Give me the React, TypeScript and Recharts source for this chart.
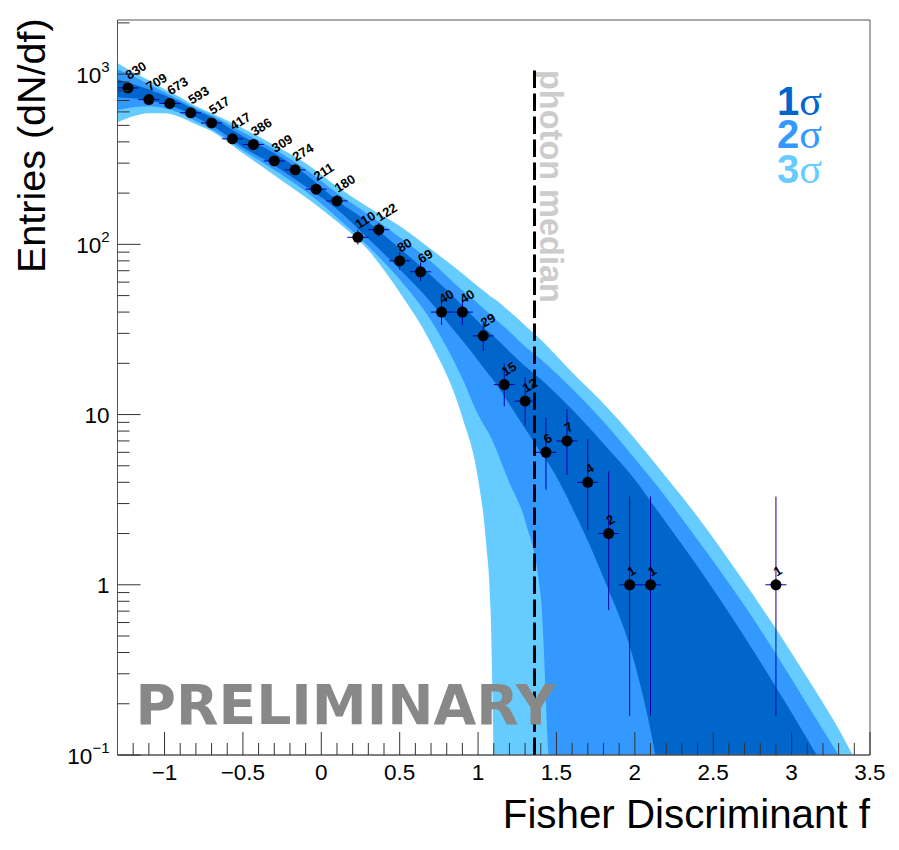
import React from 'react'
import { ComposedChart, Area, Scatter, ErrorBar, XAxis, YAxis, ReferenceLine, ReferenceArea, ReferenceDot } from 'recharts'

const bandF = [-1.3, -1.2, -1.1, -1.0, -0.9, -0.8, -0.7, -0.5, -0.3, -0.1, 0.1, 0.3, 0.5, 0.7, 0.9, 1.0, 1.05, 1.08, 1.1, 1.2, 1.3, 1.4, 1.45, 1.6, 1.8, 2.0, 2.13, 2.4, 2.7, 3.0, 3.16, 3.3, 3.39, 3.5]
const upper3 = [1161, 1027, 922, 816, 732, 648, 590, 481, 382, 300, 219, 165, 128, 93.5, 67.5, 56.6, 52.2, 49.4, 48.1, 40.4, 33.4, 27.6, 24.8, 17.7, 11.6, 7.22, 5.15, 2.51, 1.03, 0.398, 0.232, 0.142, 0.1, 0.0666]
const upper2 = [1070, 973, 873, 784, 703, 631, 574, 456, 362, 276, 200, 150, 110, 79.4, 53.6, 45, 40.9, 38.8, 37.2, 30.8, 25.1, 21.1, 19.2, 14.2, 9.1, 5.51, 3.93, 1.84, 0.753, 0.28, 0.161, 0.1, 0.0742, 0.0537]
const upper1 = [934, 873, 816, 752, 684, 614, 559, 432, 343, 258, 181, 135, 94.7, 65.7, 43.8, 35.2, 31.6, 30, 28.8, 23.5, 19.2, 16.1, 14.6, 10.7, 6.75, 4.15, 2.84, 1.28, 0.494, 0.177, 0.1, 0.0615, 0.0435, 0.027]
const lower1 = [732, 722, 703, 666, 622, 559, 501, 372, 291, 219, 161, 108, 71.3, 45.6, 27.2, 20.8, 18.1, 16.7, 15.8, 11.5, 8.27, 5.98, 5.15, 2.84, 1.1, 0.343, 0.1, 0.001, 0.001, 0.001, 0.001, 0.001, 0.001, 0.001]
const lower2 = [614, 639, 648, 631, 590, 529, 475, 357, 273, 205, 144, 97.3, 62.2, 35.7, 16.3, 10, 8.27, 7.42, 6.75, 3.98, 2.38, 0.85, 0.1, 0.001, 0.001, 0.001, 0.001, 0.001, 0.001, 0.001, 0.001, 0.001, 0.001, 0.001]
const lower3 = [522, 566, 590, 590, 559, 508, 462, 343, 255, 189, 136, 92.2, 52.2, 26.2, 9.6, 4.2, 1.82, 0.703, 0.1, 0.001, 0.001, 0.001, 0.001, 0.001, 0.001, 0.001, 0.001, 0.001, 0.001, 0.001, 0.001, 0.001, 0.001, 0.001]

const pointF = [-1.233, -1.1, -0.967, -0.833, -0.7, -0.567, -0.433, -0.3, -0.167, -0.033, 0.1, 0.233, 0.367, 0.5, 0.633, 0.767, 0.9, 1.033, 1.167, 1.3, 1.433, 1.567, 1.7, 1.833, 1.967, 2.1, 2.9]
const pointN = [830, 709, 673, 593, 517, 417, 386, 309, 274, 211, 180, 110, 122, 80, 69, 40, 40, 29, 15, 12, 6, 7, 4, 2, 1, 1, 1]
const errLow = [29, 26, 26, 24, 22, 20, 19, 17, 16, 14, 13, 10.5, 11, 8.9, 8.3, 6.3, 6.3, 5.4, 3.8, 3.4, 2.38, 2.58, 1.91, 1.29, 0.83, 0.83, 0.83]
const errHigh = [29, 27, 26, 25, 23, 21, 20, 18, 17, 15, 14, 11.5, 12, 9.9, 9.3, 7.4, 7.4, 6.5, 4.95, 4.53, 3.58, 3.77, 3.16, 2.64, 2.3, 2.3, 2.3]
const binHalfWidth = 0.067

const xTicks = [-1.2, -1.1, -1, -0.9, -0.8, -0.7, -0.6, -0.5, -0.4, -0.3, -0.2, -0.1, 0, 0.1, 0.2, 0.3, 0.4, 0.5, 0.6, 0.7, 0.8, 0.9, 1, 1.1, 1.2, 1.3, 1.4, 1.5, 1.6, 1.7, 1.8, 1.9, 2, 2.1, 2.2, 2.3, 2.4, 2.5, 2.6, 2.7, 2.8, 2.9, 3, 3.1, 3.2, 3.3, 3.4, 3.5]
const yTicks = [0.1, 0.2, 0.3, 0.4, 0.5, 0.6, 0.7, 0.8, 0.9, 1, 2, 3, 4, 5, 6, 7, 8, 9, 10, 20, 30, 40, 50, 60, 70, 80, 90, 100, 200, 300, 400, 500, 600, 700, 800, 900, 1000, 2000]
const yExponents = { 0.1: '\u22121', 100: '2', 1000: '3' }

const photonMedian = 1.36
const sigmaLegend = [
	{ label: '1', color: '#0066cc', baseline: 115 },
	{ label: '2', color: '#3399ff', baseline: 148 },
	{ label: '3', color: '#66ccff', baseline: 183 },
]

const bandRows = bandF.map((f, i) => ({
	f,
	band1: [lower1[i], upper1[i]],
	band2: [lower2[i], upper2[i]],
	band3: [lower3[i], upper3[i]],
}))

const pointRows = pointF.map((f, i) => ({
	f,
	n: pointN[i],
	nErr: [errLow[i], errHigh[i]],
	fErr: binHalfWidth,
}))

const sans = 'Liberation Sans'

const XTick = ({ x, y, payload }: any) => {
	const v = payload.value
	const major = Math.abs(v * 2 - Math.round(v * 2)) < 0.001
	return (
		<g>
			<line x1={x} x2={x} y1={y} y2={y - (major ? 23 : 12)} stroke='#333' strokeWidth={1} />
			{major && (
				<text x={x} y={y + 25} textAnchor='middle' fontFamily={sans} fontSize={22.5} fill='#000'>
					{String(v).replace('-', '\u2212')}
				</text>
			)}
		</g>
	)
}

const YTick = ({ x, y, payload }: any) => {
	const v = payload.value
	const major = [0.1, 1, 10, 100, 1000].includes(v)
	let label = null
	if (v === 1 || v === 10) {
		label = (
			<text x={x - 8} y={y + 8} textAnchor='end' fontFamily={sans} fontSize={22.5} fill='#000'>
				{v}
			</text>
		)
	} else if (yExponents[v]) {
		label = (
			<text x={x - 8} y={y + 9} textAnchor='end' fontFamily={sans} fontSize={22.5} fill='#000'>
				10
				<tspan dy={-11} fontSize={15}>{yExponents[v]}</tspan>
			</text>
		)
	}
	return (
		<g>
			<line x1={x} x2={x + (major ? 23 : 12)} y1={y} y2={y} stroke='#333' strokeWidth={1} />
			{label}
		</g>
	)
}

const PointMark = ({ cx, cy, payload }: any) => (
	<g>
		<circle cx={cx} cy={cy} r={5.5} fill='#000' />
		<text
			transform={`translate(${cx + 1},${cy - 8}) rotate(-32)`}
			fontFamily={sans}
			fontWeight='bold'
			fontSize={13}
			fill='#000'>
			{payload.n}
		</text>
	</g>
)

const PreliminaryText = ({ cx, cy }: any) => (
	<text x={cx} y={cy} fontFamily='DejaVu Sans' fontWeight='bold' fontSize={55.2} fill='#888'>PRELIMINARY</text>
)

const App = () => {
	return (
		<div style={{ position: 'absolute', left: 0, top: 0, width: 899, height: 850, background: '#fff' }}>
			<ComposedChart
				width={899}
				height={850}
				data={bandRows}
				margin={{ top: 20, right: 29, left: 0, bottom: 0 }}>
				<XAxis
					dataKey='f'
					type='number'
					domain={[-1.3, 3.5]}
					ticks={xTicks}
					interval={0}
					height={95}
					allowDataOverflow
					tick={<XTick />}
					tickLine={false}
					tickSize={0}
					tickMargin={0}
					stroke='#555'
				/>
				<YAxis
					type='number'
					scale='log'
					domain={[0.1, 2080]}
					ticks={yTicks}
					interval={0}
					width={117.5}
					allowDataOverflow
					tick={<YTick />}
					tickLine={false}
					tickSize={0}
					tickMargin={0}
					stroke='#555'
				/>
				<Area type='monotone' dataKey='band3' fill='#66ccff' fillOpacity={1} stroke='none' isAnimationActive={false} />
				<Area type='monotone' dataKey='band2' fill='#3399ff' fillOpacity={1} stroke='none' isAnimationActive={false} />
				<Area type='monotone' dataKey='band1' fill='#0066cc' fillOpacity={1} stroke='none' isAnimationActive={false} />
				<ReferenceArea x1={-1.3} x2={3.5} y1={0.1} y2={2080} fill='none' stroke='#555' strokeWidth={1} />
				<ReferenceDot x={-1.185} y={0.152} r={0} shape={<PreliminaryText />} />
				<ReferenceLine
					segment={[{ x: photonMedian, y: 1050 }, { x: photonMedian, y: 0.1 }]}
					stroke='#000'
					strokeWidth={3}
					strokeDasharray='17.5 5.5'
				/>
				<Scatter data={pointRows} dataKey='n' shape={<PointMark />} isAnimationActive={false} />
				<Scatter data={pointRows} dataKey='n' shape={<g />} isAnimationActive={false}>
					<ErrorBar dataKey='nErr' direction='y' width={0} stroke='#0000aa' strokeWidth={1} isAnimationActive={false} />
					<ErrorBar dataKey='fErr' direction='x' width={0} stroke='#0000aa' strokeWidth={1} isAnimationActive={false} />
				</Scatter>
				<text transform='translate(540,70) rotate(90)' fontFamily={sans} fontWeight='bold' fontSize={32.5} fill='#ccc'>photon median</text>
				{sigmaLegend.map((s) => (
					<text key={s.label} x={822} y={s.baseline} textAnchor='end' fontSize={40} fill={s.color}>
						<tspan fontFamily={sans} fontWeight='bold'>{s.label}</tspan>
						<tspan fontFamily='Liberation Serif' fontSize={42}>σ</tspan>
					</text>
				))}
				<text transform='translate(45,273) rotate(-90)' fontFamily={sans} fontSize={39.5} fill='#000'>Entries (dN/df)</text>
				<text x={870} y={828} textAnchor='end' fontFamily={sans} fontSize={40.3} fill='#000'>Fisher Discriminant f</text>
			</ComposedChart>
		</div>
	)
}

export default App
